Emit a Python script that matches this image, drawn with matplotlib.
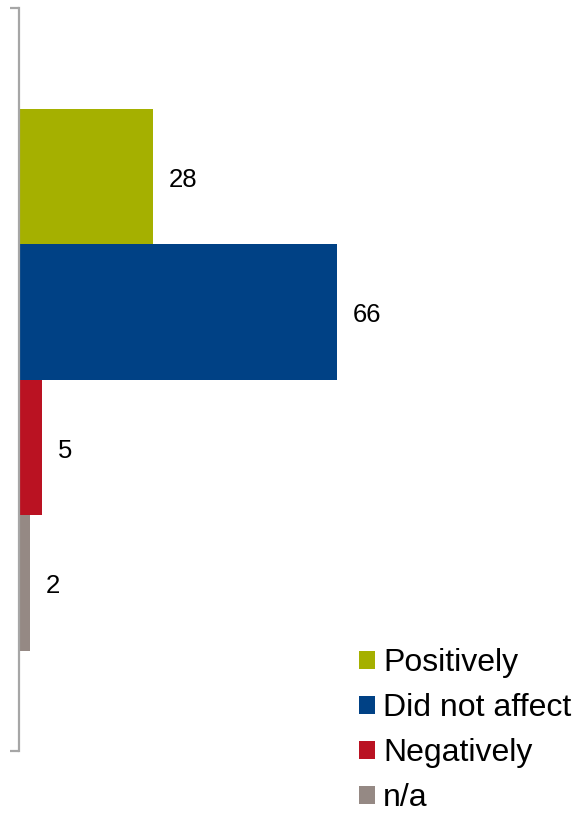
import matplotlib
matplotlib.use("Agg")
import matplotlib.pyplot as plt
from matplotlib.patches import Patch

categories = ["Positively", "Did not affect", "Negatively", "n/a"]
values = [27.8, 66.0, 4.8, 2.3]
labels = ["28", "66", "5", "2"]
colors = ["#A5B000", "#004185", "#BA1222", "#958984"]

plt.rcParams['font.family'] = ['Liberation Sans', 'DejaVu Sans']

W, H = 575, 814
fig = plt.figure(figsize=(W / 100, H / 100), dpi=100)
ax = fig.add_axes([19 / W, 63 / H, (W - 19) / W, 743 / H])

pos = list(range(len(categories)))
bars = ax.barh(pos, values, height=1.0, color=colors, align='center')

ax.set_xlim(0, (W - 19) / 4.82)
ytop, ybot = -1.245, 4.238
ax.set_ylim(ybot, ytop)

for b, lab in zip(bars, labels):
    ax.annotate(lab, (b.get_width(), b.get_y() + b.get_height() / 2),
                xytext=(16, -3), textcoords='offset pixels',
                ha='left', va='center', fontsize=18.5, color='black')

for s in ['top', 'right', 'bottom']:
    ax.spines[s].set_visible(False)
ax.spines['left'].set_color('#A6A6A6')
ax.spines['left'].set_linewidth(1.6)
ax.set_xticks([])
ax.set_yticks([ytop, ybot])
ax.set_yticklabels([])
ax.tick_params(axis='y', length=6.5, width=1.6, color='#A6A6A6', direction='out')

handles = [Patch(facecolor=c, edgecolor='none') for c in colors]
leg = fig.legend(handles, categories, loc='upper left',
                 bbox_to_anchor=(359 / W, 1 - 648 / H), frameon=False,
                 fontsize=23, handlelength=0.5, handleheight=0.5,
                 handletextpad=0.25, labelspacing=0.47, borderpad=0,
                 borderaxespad=0)

fig.savefig("out.png", dpi=100)
